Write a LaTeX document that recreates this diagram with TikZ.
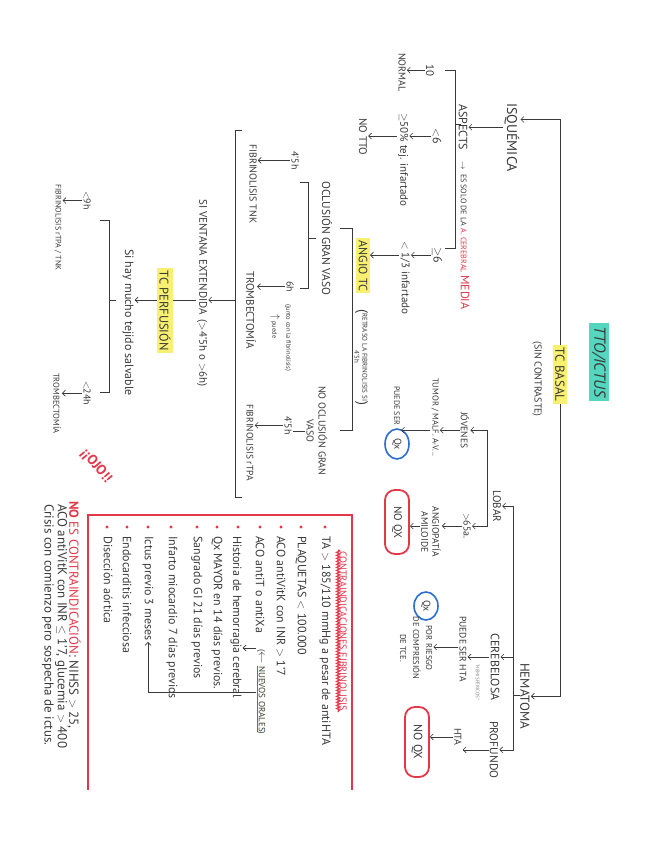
\documentclass[tikz,border=0pt]{standalone}
\usepackage{fontspec}
\setmainfont{PT Sans}
\usepackage{amsmath}
\usetikzlibrary{arrows.meta, shapes.geometric, decorations.pathmorphing, calc}
\definecolor{ictusink}{HTML}{3A3A3A}
\definecolor{ictusred}{HTML}{E2384A}
\definecolor{ictusblue}{HTML}{2D6FCF}
\definecolor{ictusyellow}{HTML}{F7F071}
\definecolor{ictusteal}{HTML}{55D6BE}

\begin{document}
\begin{tikzpicture}[x=1pt, y=-1pt,
        lbl/.style={rotate=-90, anchor=west, inner sep=1pt, text=ictusink, font=\fontsize{10}{11}\selectfont},
        hl/.style={fill=ictusyellow, inner sep=2.5pt},
        item/.style={lbl, font=\fontsize{12}{13}\selectfont},
        arrow/.style={-{Straight Barb[length=3pt,width=6pt]}, ictusink, line width=0.6pt},
        brk/.style={ictusink, line width=0.6pt},
        qxok/.style={lbl, anchor=center, draw=ictusblue, line width=1.6pt, ellipse, inner sep=0pt, minimum width=30pt, minimum height=24pt, font=\fontsize{10}{11}\selectfont},
        qxno/.style={lbl, anchor=center, draw=ictusred, line width=1.8pt, rounded corners=10pt, minimum height=24pt}
    ]
        \fill[white] (0,0) rectangle (655,848);
        \useasboundingbox (0,0) rectangle (655,848);

        \node (title) [lbl, fill=ictusteal, inner sep=3pt, font=\fontsize{16}{17}\selectfont\itshape] at (599,323) {TTO/ICTUS};
        \node (tcbasal) [lbl, hl, font=\fontsize{13}{14}\selectfont] at (560,345) {TC BASAL};
        \node (sincon) [lbl] at (537,340) {(SIN CONTRASTE)};

        % isquemico
        \node (isq) [lbl, font=\fontsize{14}{15}\selectfont] at (512,102) {ISQUÉMICA};
        \node (aspects) [lbl, font=\fontsize{12}{13}\selectfont] at (463,103) {ASPECTS};
        \node (acm) [lbl, font=\fontsize{8}{9}\selectfont] at (465,160) {$\rightarrow$\; ES SOLO DE LA \textcolor{ictusred}{A. CEREBRAL {\fontsize{12}{13}\selectfont MEDIA}}};
        \node (ten) [lbl, font=\fontsize{11}{12}\selectfont] at (430,63) {10};
        \node (normal) [lbl, font=\fontsize{10}{11}\selectfont] at (402,52) {NORMAL};
        \node (lt6) [lbl, font=\fontsize{12}{13}\selectfont] at (437,127) {$<$6};
        \node (pct) [lbl, font=\fontsize{11}{12}\selectfont] at (403,112) {$\geq$50\% tej. infartado};
        \node (nott) [lbl, font=\fontsize{11}{12}\selectfont] at (363,117) {NO TTO};
        \node (ge6) [lbl, font=\fontsize{12}{13}\selectfont] at (437,246) {$\geq$6};
        \node (third) [lbl, font=\fontsize{11}{12}\selectfont] at (405,240) {$<$ 1/3 infartado};
        \node (angio) [lbl, hl, font=\fontsize{12}{13}\selectfont] at (363,238) {ANGIO TC};
        \node (retraso) [lbl, align=center, font=\fontsize{7}{8}\selectfont] at (360,308) {{\fontsize{14}{14}\selectfont(}\begin{tabular}{@{}c@{}}RETRASO LA FIBRINOLISIS SI\\ 4'5h\end{tabular}{\fontsize{14}{14}\selectfont)}};

        \draw [arrow] (tcbasal.west) |- ([yshift=18pt]isq.north);
        \draw [arrow] (isq.south |- aspects) -- (aspects.north);
        \draw [brk] (445,70) -- (455,70) -- (455,248) -- (445,248);
        \draw [brk] (455,124) -- (461,124);
        \draw [arrow] (ten.south) -- (ten.south -| normal.north);
        \draw [arrow] (lt6.south) -- (lt6.south -| pct.north);
        \draw [arrow] (lt6.south -| pct.south) -- (lt6.south -| nott.north);
        \draw [arrow] (ge6.south) -- (ge6.south -| third.north);
        \draw [arrow] (ge6.south -| third.south) -- (ge6.south -| angio.north);
        \draw [brk] (340,228) -- (352,228) -- (352,430) -- (340,430);

        \node (ocl) [lbl, font=\fontsize{11.5}{12}\selectfont] at (327,180) {OCLUSIÓN GRAN VASO};
        \node (noocl) [lbl, align=center, font=\fontsize{10}{12}\selectfont] at (317,385) {NO OCLUSIÓN GRAN\\VASO};
        \node (h45b) [lbl] at (288,415) {4'5h};
        \node (tpa) [lbl, font=\fontsize{9.5}{10}\selectfont] at (250,403) {FIBRINOLISIS rTPA};
        \node (h45a) [lbl] at (295,150) {4'5h};
        \node (tnk) [lbl] at (253,143) {FIBRINOLISIS TNK};
        \node (h6) [lbl] at (290,280) {6h};
        \node (tromb1) [lbl, font=\fontsize{11}{12}\selectfont] at (251,270) {TROMBECTOMÍA};
        \node (junto) [lbl, font=\fontsize{6.5}{7}\selectfont] at (288,303) {(junto con la fibrinolisis)};
        \node (puede) [lbl, font=\fontsize{6.5}{7}\selectfont] at (275,313) {{\fontsize{11}{11}\selectfont$\uparrow$} puede};

        \draw [brk] (noocl.south) -- (noocl.south -| h45b.north);
        \draw [arrow] (h45b.south) -- (h45b.south -| tpa.north);
        \draw [brk] (300,182) -- (308,182) -- (308,288) -- (300,288);
        \draw [brk] (308,238) -- (316,238);
        \draw [arrow] (h45a.south) -- (h45a.south -| tnk.north);
        \draw [arrow] (h6.south) -- (h6.south -| tromb1.north);

        \coordinate (bigmid) at (235,300);
        \draw [brk] (242,130) -- (235,130) -- (235,497) -- (242,497);
        \node (ventana) [lbl, font=\fontsize{11}{12}\selectfont] at (202,198) {SI VENTANA EXTENDIDA \,($>$4'5h o $>$6h)};
        \node (tcperf) [lbl, hl, font=\fontsize{12.5}{13}\selectfont] at (165,268) {TC PERFUSIÓN};
        \node (salv) [lbl, font=\fontsize{12}{13}\selectfont] at (128,248) {Si hay mucho tejido salvable};
        \draw [arrow] (bigmid) -- (bigmid -| ventana.north);
        \draw [brk] (bigmid -| ventana.south) -- (bigmid -| tcperf.north);
        \draw [arrow] (bigmid -| tcperf.south) -- (bigmid -| salv.north);

        \draw [brk] (100,220) -- (109,220) -- (109,392) -- (100,392);
        \draw [brk] (109,300) -- (116,300);
        \node (lt9) [lbl] at (87,190) {$<$9h};
        \node (fibr2) [lbl, font=\fontsize{8}{9}\selectfont] at (58,183) {FIBRINOLISIS rTPA / TNK};
        \node (lt24) [lbl] at (87,380) {$<$24h};
        \node (tromb2) [lbl, font=\fontsize{8.5}{9}\selectfont] at (57,372) {TROMBECTOMÍA};
        \draw [arrow] (lt9.south) -- (lt9.south -| fibr2.north);
        \draw [arrow] (lt24.south) -- (lt24.south -| tromb2.north);

        \node (ojo) [rotate=-50, inner sep=0pt, text=ictusred, font=\fontsize{14}{15}\selectfont\bfseries] at (96,466) {¡¡OJO!!};

        % hemorragico
        \node (hema) [lbl, font=\fontsize{13}{14}\selectfont] at (525,662) {HEMATOMA};
        \node (lobar) [lbl, font=\fontsize{11}{12}\selectfont] at (497,489) {LOBAR};
        \node (cereb) [lbl, font=\fontsize{12}{13}\selectfont] at (495,632) {CEREBELOSA};
        \node (profundo) [lbl, font=\fontsize{11.5}{12}\selectfont] at (494,720) {PROFUNDO};
        \draw [arrow] (tcbasal.east) |- (hema.north);
        \coordinate (hemamid) at (513,695);
        \coordinate (cerebtip) at (513,657);
        \draw [brk] (hemamid) -- (520,695);
        \draw [arrow] (hemamid) |- (lobar.north);
        \draw [arrow] (hemamid) |- (profundo.north);
        \draw [arrow] (cerebtip) -- (cerebtip -| cereb.north);

        \node (jov) [lbl, font=\fontsize{9.5}{10}\selectfont] at (465,411) {JÓVENES};
        \node (tumor) [lbl, font=\fontsize{8.5}{9}\selectfont] at (435,377) {TUMOR / MALF. A-V...};
        \node (puede1) [lbl, font=\fontsize{8}{9}\selectfont] at (397,385) {PUEDE SER};
        \node (qx1) [qxok] at (397,444) {Qx};
        \node (gt65) [lbl] at (467,512) {$>$65a.};
        \node (amil) [lbl, anchor=center, align=center, font=\fontsize{9.5}{11}\selectfont] at (431,532) {ANGIOPATÍA\\AMILOIDE};
        \node (noqx1) [qxno, minimum width=64pt, font=\fontsize{11}{12}\selectfont] at (397,522) {NO QX};
        \coordinate (lobmid) at (487,490);
        \draw [arrow] (lobmid) |- (jov.north);
        \draw [arrow] (lobmid) |- (gt65.north);
        \draw [arrow] (jov.south) -- (jov.south -| tumor.north);
        \draw [arrow] (jov.south -| tumor.south) -- (jov.south -| puede1.north);
        \draw [arrow] (gt65.south) -- (gt65.south -| amil.north);
        \draw [arrow] (gt65.south -| amil.south) -- (gt65.south -| noqx1.north);

        \node (hemisf) [lbl, text=gray, font=\fontsize{5}{6}\selectfont] at (478,663) {“HEMISFÉRICOS”};
        \node (puedehta) [lbl, font=\fontsize{9.5}{10}\selectfont] at (463,615) {PUEDE SER HTA};
        \node (qx2) [qxok, minimum width=28pt] at (426,606) {Qx};
        \node (riesgo) [lbl, anchor=center, align=center, font=\fontsize{8.5}{13}\selectfont] at (416,648) {POR RIESGO\\DE COMPRESIÓN\\DE TCE.};
        \node (hta) [lbl] at (458,727) {HTA};
        \node (noqx2) [qxno, minimum width=70pt, font=\fontsize{12}{13}\selectfont] at (417,742) {NO QX};
        \draw [arrow] (cerebtip -| cereb.south) -- (cerebtip -| puedehta.north);
        \draw [arrow] ([yshift=10pt]cerebtip -| puedehta.south) -- ([yshift=10pt]cerebtip -| riesgo.north);
        \draw [arrow] (profundo.south) -- (profundo.south -| hta.north);
        \draw [arrow] (hta.south) -- (hta.south -| noqx2.north);

        % contraindicaciones
        \draw [ictusred, line width=2.5pt] (88,790) -- (88,515) -- (352,515) -- (352,790);
        \node (cihead) [lbl, text=ictusred] at (343,550) {CONTRAINDICACIONES FIBRINOLISIS};
        \draw [ictusred, line width=1.2pt, decorate, decoration={snake, amplitude=1.6pt, segment length=3pt}] (cihead.south west) -- (cihead.south east);
        \foreach \bx in {107,127,148,171,197,217,238,260,281,301,325}
            \fill [ictusred] (\bx,527) circle (1.6);
        \node (c1) [item] at (325,535) {TA $>$ 185/110 mmHg a pesar de antiHTA};
        \node (c2) [item] at (301,535) {PLAQUETAS $<$ 100.000};
        \node (c3) [item] at (281,535) {ACO antiVitK con INR $>$ 1'7};
        \node (c4) [item] at (260,535) {ACO antiT o antiXa};
        \node (nuevos) [item, font=\fontsize{9}{10}\selectfont] at (261,648) {({\fontsize{12}{12}\selectfont$\leftarrow$} \textcolor{ictusred}{\underline{\textcolor{ictusink}{NUEVOS ORALES}}})};
        \node (hist) [item] at (236,535) {Historia de hemorragia cerebral};
        \node (qxmay) [item] at (217,535) {Qx MAYOR en 14 días previos.};
        \node (gi) [item] at (197,535) {Sangrado GI 21 días previos};
        \node (iam) [item] at (172,535) {Infarto miocardio 7 días previos};
        \node (ictus) [item] at (148,535) {Ictus previo 3 meses};
        \node (endoc) [item] at (127,535) {Endocarditis infecciosa};
        \node (disec) [item] at (108,535) {Disección aórtica};
        \draw [arrow] (nuevos.south west) -- (nuevos.south west -| hist.north);
        \draw [arrow] (nuevos.south) -| (ictus.east);

        \node (noes) [lbl, font=\fontsize{13}{14}\selectfont] at (74,500) {\textcolor{ictusred}{\textbf{NO} ES CONTRAINDICACIÓN}: NIHSS $>$ 25,};
        \node (noes2) [lbl, font=\fontsize{13}{14}\selectfont] at (61,503) {ACO antiVitK con INR $\leq$ 1'7, glucemia $>$ 400};
        \node (noes3) [lbl, font=\fontsize{13}{14}\selectfont] at (48,503) {Crisis con comienzo pero sospecha de ictus.};
    \end{tikzpicture}
\end{document}
